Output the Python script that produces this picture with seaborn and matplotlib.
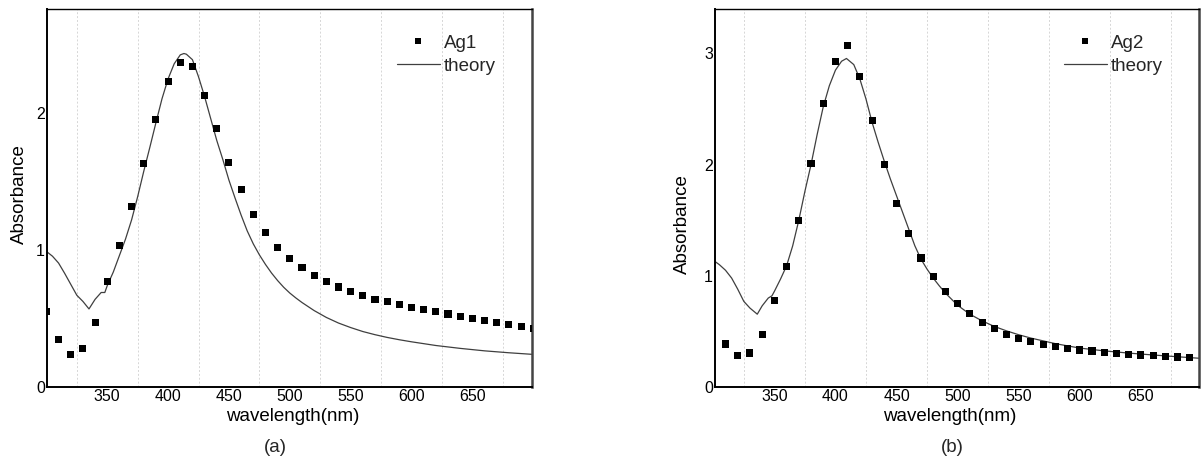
import matplotlib
matplotlib.use("Agg")
import matplotlib.pyplot as plt
from matplotlib.lines import Line2D
import seaborn as sns
import pandas as pd

# ---------------- data ----------------
ag1_wl = [300, 310, 320, 330, 340, 350, 360, 370, 380, 390, 400, 410, 420, 430, 440,
          450, 460, 470, 480, 490, 500, 510, 520, 530, 540, 550, 560, 570, 580, 590,
          600, 610, 620, 630, 640, 650, 660, 670, 680, 690, 700]
ag1_abs = [0.55, 0.35, 0.24, 0.28, 0.47, 0.77, 1.03, 1.32, 1.63, 1.95, 2.23, 2.37, 2.34, 2.13, 1.89,
           1.64, 1.44, 1.26, 1.13, 1.02, 0.94, 0.87, 0.815, 0.77, 0.73, 0.70, 0.67, 0.64, 0.625, 0.60,
           0.58, 0.567, 0.55, 0.533, 0.518, 0.50, 0.487, 0.47, 0.455, 0.443, 0.43]

th1_wl = [300, 305, 310, 315, 320, 325, 330, 335, 340, 345, 348, 350, 355, 360, 365, 370,
          375, 380, 385, 390, 395, 400, 405, 410, 413, 415, 420, 425, 430, 435, 440, 445,
          450, 455, 460, 465, 470, 475, 480, 485, 490, 495, 500, 505, 510, 520, 530, 540,
          550, 560, 570, 580, 590, 600, 620, 640, 660, 680, 700]
th1_abs = [0.99, 0.955, 0.905, 0.83, 0.75, 0.67, 0.625, 0.57, 0.64, 0.69, 0.69, 0.74, 0.84, 0.96, 1.08, 1.22,
           1.39, 1.575, 1.75, 1.93, 2.105, 2.25, 2.36, 2.425, 2.435, 2.43, 2.39, 2.265, 2.12, 1.96, 1.80, 1.66,
           1.51, 1.38, 1.255, 1.14, 1.045, 0.965, 0.895, 0.832, 0.777, 0.728, 0.686, 0.65, 0.617, 0.558, 0.508, 0.467,
           0.434, 0.405, 0.382, 0.362, 0.345, 0.33, 0.303, 0.282, 0.264, 0.25, 0.238]

ag2_wl = [310, 320, 330, 340, 350, 360, 370, 380, 390, 400, 410, 420, 430, 440, 450,
          460, 470, 480, 490, 500, 510, 520, 530, 540, 550, 560, 570, 580, 590, 600,
          610, 620, 630, 640, 650, 660, 670, 680, 690]
ag2_abs = [0.387, 0.28, 0.306, 0.47, 0.777, 1.084, 1.50, 2.01, 2.55, 2.93, 3.07, 2.795, 2.40, 2.00, 1.65,
           1.38, 1.16, 0.997, 0.86, 0.748, 0.658, 0.583, 0.523, 0.475, 0.435, 0.408, 0.385, 0.367, 0.349, 0.333,
           0.324, 0.312, 0.303, 0.295, 0.288, 0.282, 0.276, 0.27, 0.267]

th2_wl = [300, 305, 310, 315, 320, 325, 330, 336, 340, 345, 348, 350, 355, 360, 365, 370,
          375, 380, 385, 390, 395, 400, 405, 409, 415, 420, 425, 430, 435, 440, 445, 450,
          455, 460, 465, 470, 475, 480, 485, 490, 495, 500, 510, 520, 530, 540, 550, 560,
          570, 580, 590, 600, 620, 640, 660, 680, 700]
th2_abs = [1.14, 1.10, 1.05, 0.98, 0.88, 0.77, 0.71, 0.655, 0.73, 0.80, 0.82, 0.86, 0.97, 1.09, 1.27, 1.50,
           1.76, 2.00, 2.27, 2.52, 2.71, 2.85, 2.93, 2.955, 2.90, 2.77, 2.59, 2.38, 2.20, 2.03, 1.87, 1.72,
           1.57, 1.42, 1.27, 1.15, 1.06, 0.98, 0.91, 0.845, 0.79, 0.735, 0.655, 0.595, 0.545, 0.505, 0.47, 0.44,
           0.415, 0.39, 0.37, 0.35, 0.325, 0.305, 0.288, 0.272, 0.257]

xticks = [350, 400, 450, 500, 550, 600, 650]
gridx = [325, 375, 425, 475, 525, 575, 625, 675]

# ---------------- style ----------------
sns.set_theme(style="white")
plt.rcParams['font.family'] = ['Liberation Sans', 'DejaVu Sans']

fig = plt.figure(figsize=(12.01, 4.63), dpi=100)
W, H = 1201, 463

panels = [
    dict(rect=[47 / W, 76 / H, 485 / W, 378 / H], xlim=(300.5, 699), ylim=(0, 2.76),
         yticks=[0, 1, 2], wl=ag1_wl, ab=ag1_abs, twl=th1_wl, tab=th1_abs, name="Ag1",
         ylab=(-0.040, 0.51), xlab=(0.507, -0.055), leg=(0.925, 0.932), tag="(a)", tagx=275),
    dict(rect=[715 / W, 76 / H, 484 / W, 378 / H], xlim=(301.4, 697.6), ylim=(0, 3.40),
         yticks=[0, 1, 2, 3], wl=ag2_wl, ab=ag2_abs, twl=th2_wl, tab=th2_abs, name="Ag2",
         ylab=(-0.049, 0.431), xlab=(0.485, -0.055), leg=(0.925, 0.932), tag="(b)", tagx=952),
]

for p in panels:
    ax = fig.add_axes(p["rect"])
    df_pts = pd.DataFrame({"wl": p["wl"], "abs": p["ab"]})
    df_th = pd.DataFrame({"wl": p["twl"], "abs": p["tab"]})
    for gx in gridx:
        ax.axvline(gx, color="#d6d6d6", lw=0.7, ls=(0, (2, 2)), zorder=0)
    sns.lineplot(data=df_th, x="wl", y="abs", ax=ax, color="#3f3f3f", lw=0.9,
                 sort=False, zorder=2, legend=False)
    sns.scatterplot(data=df_pts, x="wl", y="abs", ax=ax, marker="s", s=26,
                    color="black", edgecolor="none", linewidth=0, zorder=3,
                    legend=False, clip_on=True)
    ax.set_xlim(*p["xlim"])
    ax.set_ylim(*p["ylim"])
    ax.set_xticks(xticks)
    ax.set_xticklabels([str(t) for t in xticks])
    ax.set_yticks(p["yticks"])
    ax.set_yticklabels([str(t) for t in p["yticks"]])
    ax.tick_params(axis="both", length=0, labelsize=11.5, colors="black")
    ax.tick_params(axis="y", pad=1.5)
    ax.tick_params(axis="x", pad=1.5)
    ax.set_xlabel("wavelength(nm)", fontsize=13.5, color="black")
    ax.set_ylabel("Absorbance", fontsize=13.5, color="black")
    ax.yaxis.set_label_coords(*p["ylab"])
    ax.xaxis.set_label_coords(*p["xlab"])
    for side, sp in ax.spines.items():
        sp.set_visible(True)
        sp.set_color("black")
        sp.set_linewidth(1.4)
    ax.spines["top"].set_linewidth(1.0)
    ax.spines["right"].set_color("#444444")
    ax.spines["right"].set_linewidth(1.8)
    handles = [
        Line2D([], [], ls="none", marker="s", markersize=4.5, color="black", markeredgewidth=0),
        Line2D([], [], color="#3f3f3f", lw=0.9),
    ]
    ax.legend(handles, [p["name"], "theory"], loc="upper right", bbox_to_anchor=p["leg"],
              frameon=False, fontsize=13.5, handlelength=2.3, handletextpad=0.2,
              labelspacing=0.32, borderpad=0, borderaxespad=0)
    fig.text(p["tagx"] / W, 1 - 448 / H, p["tag"], ha="center", va="center", fontsize=13.5)

fig.savefig("out.png", dpi=100)
